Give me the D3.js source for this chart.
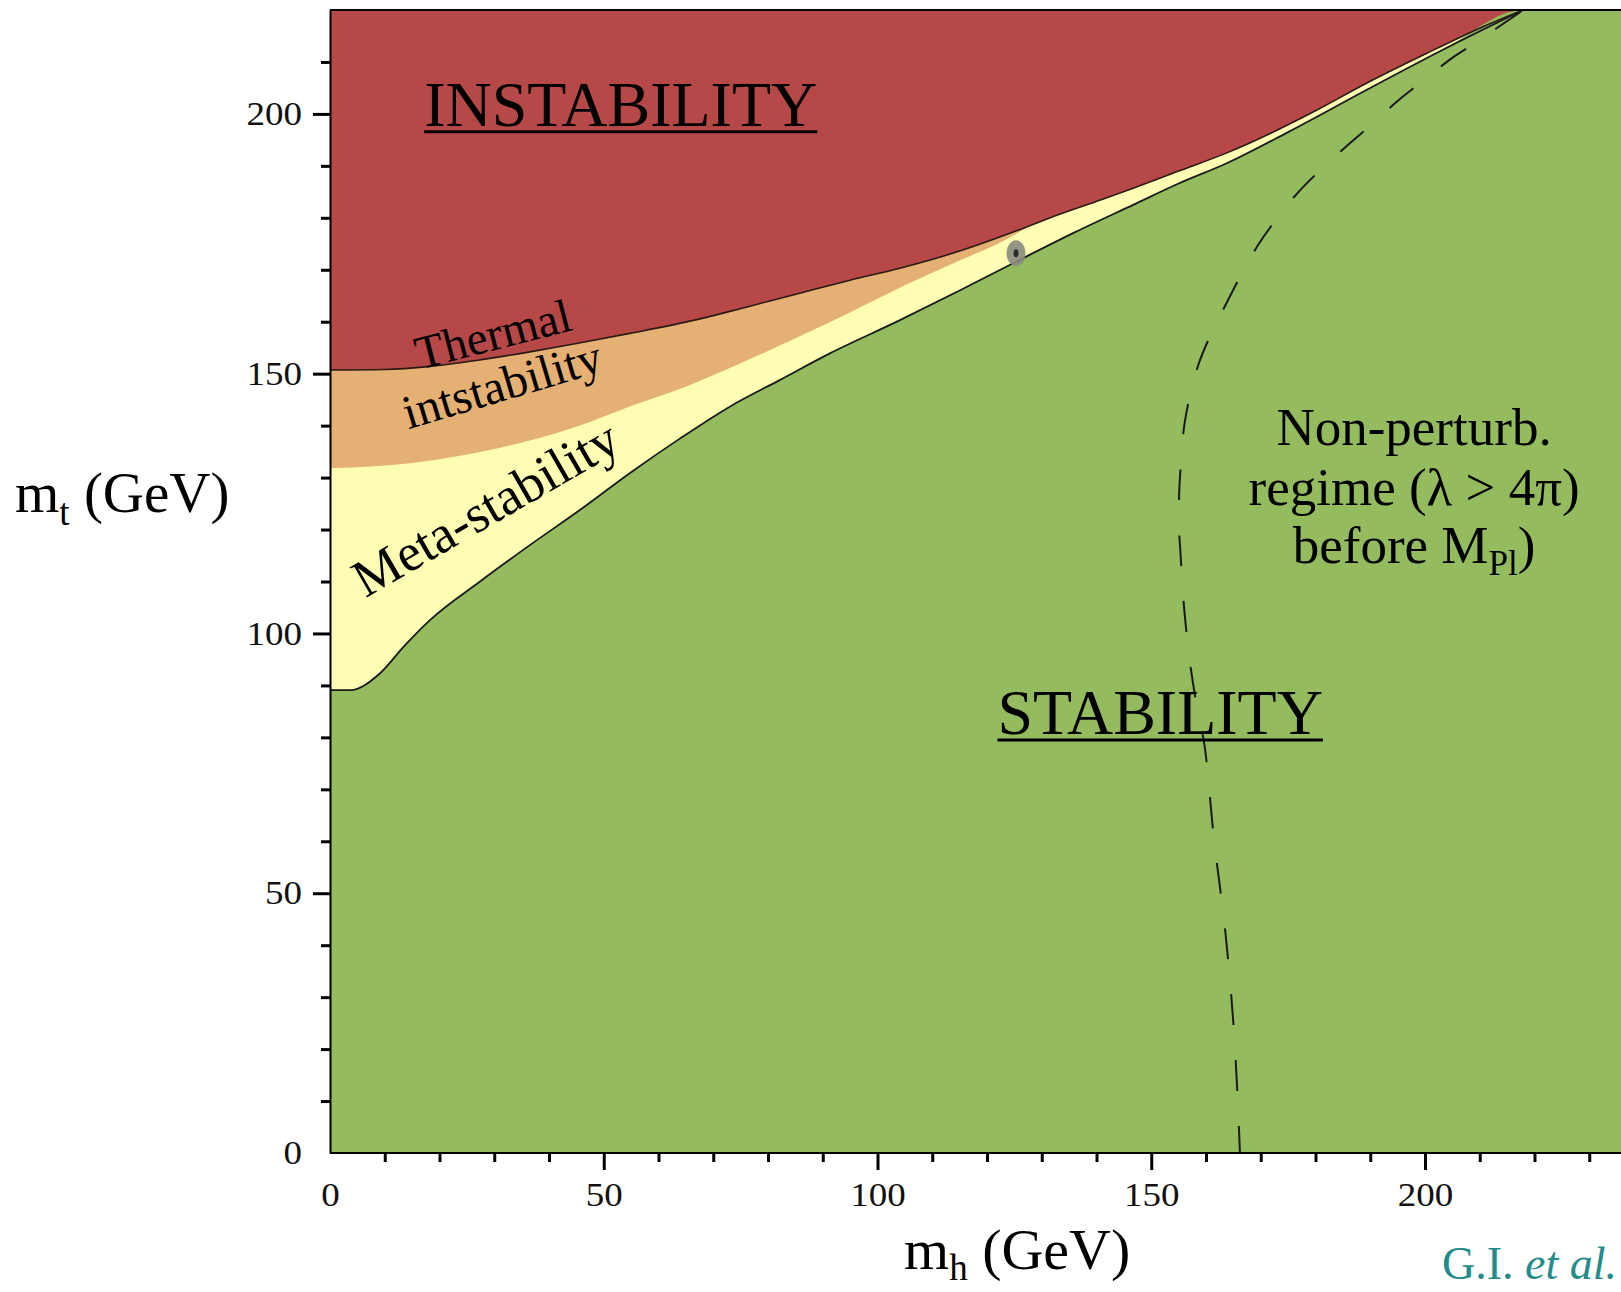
<!DOCTYPE html>
<html><head><meta charset="utf-8">
<script src="https://cdn.jsdelivr.net/npm/d3@7"></script>
<style>html,body{margin:0;padding:0;background:#fff;overflow:hidden}</style>
</head><body>
<svg id="chart" width="1621" height="1292"></svg>
<script>
// ---- Data ----
// Upper (absolute) instability boundary: red above
const instabMh = [0, 10, 18.3, 27, 36.5, 45.5, 55, 67, 76, 85.8, 95, 104.1, 115, 125.4, 133, 140.6, 146.7, 155, 163.8, 168, 180, 189.3, 200, 210, 217.9];
const instabMt = [150.7, 150.8, 151.4, 152.6, 154.2, 155.9, 157.8, 160.4, 162.8, 165.5, 168.0, 170.3, 173.6, 177.5, 180.6, 183.4, 185.7, 189.0, 192.5, 194.4, 200.6, 205.9, 211.5, 216.5, 220];
// Thermal instability / meta-stability boundary
const thermMh = [0, 15, 30, 45, 55, 65, 75, 85, 95, 105, 115, 122, 128.5];
const thermMt = [131.8, 132.8, 135.5, 139.8, 143.8, 147.5, 152.0, 156.8, 161.8, 167.0, 171.8, 175.0, 178.9];
// Stability boundary: green below
const stabMh = [0, 3.7, 9.1, 13.5, 18.3, 27.4, 36.5, 45.7, 54.8, 63.9, 73.1, 82.2, 91.3, 104.1, 115, 125.4, 136, 146.7, 155, 163.8, 175, 189.3, 203, 217.9];
const stabMt = [89.1, 89.1, 92.3, 97.5, 102.6, 110.0, 117.0, 123.8, 130.9, 137.5, 143.7, 148.8, 153.9, 160.3, 166.0, 171.6, 177.2, 182.5, 186.6, 190.5, 196.5, 204.6, 212.2, 220];
// Non-perturbative regime (lambda > 4 pi before M_Pl), dashed
const nonPertMh = [217.5, 209.5, 204.6, 199.7, 195.0, 190.4, 185.8, 181.3, 177.0, 173.1, 169.6, 166.5, 163.8, 161.0, 158.7, 157.1, 156.0, 155.4, 155.1, 155.1, 155.4, 155.8, 157.0, 158.5, 159.7, 161.5, 163.5, 165.0, 165.8, 166.2];
const nonPertMt = [219.7, 213.9, 210.5, 206.4, 202.5, 198.1, 193.9, 189.6, 185.1, 180.1, 174.9, 169.2, 163.7, 157.8, 152.0, 145.9, 139.8, 132.4, 127.0, 119.9, 114.5, 107.4, 95, 85, 78.7, 60, 42.9, 25, 10, 0];
// Measured point (m_h, m_t)
const measuredMh = [125.3];
const measuredMt = [173.2];
// Ticks
const xTickLabels = [0, 50, 100, 150, 200];
const yTickLabels = [0, 50, 100, 150, 200];
const xMinorTicks = [10,20,30,40,60,70,80,90,110,120,130,140,160,170,180,190,210,220,230,240];
const yMinorTicks = [10,20,30,40,60,70,80,90,110,120,130,140,160,170,180,190,210];

// ---- Layout ----
const W = 1621, H = 1292;
const FONT = "'Liberation Serif','Times New Roman',serif";
const C = {red:'#b74848', orange:'#e4b073', yellow:'#fdfdb4', green:'#94bc5f'};
const x = d3.scaleLinear().domain([0, 250]).range([330, 330 + 250 * 5.475]);
const y = d3.scaleLinear().domain([0, 220]).range([1153, 10]);
const svg = d3.select('#chart');
svg.append('rect').attr('width', W).attr('height', H).attr('fill', '#fff');

svg.append('defs').append('clipPath').attr('id', 'clip')
  .append('rect').attr('x', x(0)).attr('y', y(220)).attr('width', W - x(0)).attr('height', y(0) - y(220));

const zip = (a, b) => a.map((v, i) => [v, b[i]]);
const instab = zip(instabMh, instabMt);
const therm = zip(thermMh, thermMt);
const stab = zip(stabMh, stabMt);
const nonPert = zip(nonPertMh, nonPertMt);

const plot = svg.append('g').attr('clip-path', 'url(#clip)');
plot.append('rect').attr('x', x(0)).attr('y', y(220)).attr('width', x(250) - x(0)).attr('height', y(0) - y(220)).attr('fill', C.yellow);

const areaTop = d3.area().x(d => x(d[0])).y0(y(220)).y1(d => y(d[1])).curve(d3.curveMonotoneX);
const areaBottom = d3.area().x(d => x(d[0])).y0(y(0)).y1(d => y(d[1])).curve(d3.curveMonotoneX);
const line = d3.line().x(d => x(d[0])).y(d => y(d[1])).curve(d3.curveMonotoneX);

plot.append('path').datum(therm).attr('d', areaTop).attr('fill', C.orange);
plot.append('path').datum(instab).attr('d', areaTop).attr('fill', C.red);
plot.append('path').datum(stab.concat([[250, 220]])).attr('d', areaBottom).attr('fill', C.green);
plot.append('path').datum(instab).attr('d', line).attr('fill', 'none').attr('stroke', '#2a1a14').attr('stroke-width', 1.6);
plot.append('path').datum(stab).attr('d', line).attr('fill', 'none').attr('stroke', '#1a1a1a').attr('stroke-width', 1.8);

plot.append('path').datum(nonPert)
  .attr('d', d3.line().x(d => x(d[0])).y(d => y(d[1])).curve(d3.curveCatmullRom))
  .attr('fill', 'none').attr('stroke', '#1a1a1a').attr('stroke-width', 2).attr('stroke-dasharray', '31,35');

// measured point
const pts = zip(measuredMh, measuredMt);
plot.selectAll('ellipse.halo').data(pts).join('ellipse').attr('class', 'halo')
  .attr('cx', d => x(d[0])).attr('cy', d => y(d[1])).attr('rx', 9.5).attr('ry', 13).attr('fill', '#8a8a80').attr('opacity', 0.9);
plot.selectAll('ellipse.core').data(pts).join('ellipse').attr('class', 'core')
  .attr('cx', d => x(d[0])).attr('cy', d => y(d[1])).attr('rx', 2.5).attr('ry', 4).attr('fill', '#2b2b2b');

// ---- Axes ----
function styleAxis(sel) {
  sel.selectAll('.tick line').attr('stroke', '#000').attr('stroke-width', 3);
  sel.selectAll('.tick text').attr('font-family', FONT).attr('font-size', 33).attr('fill', '#111')
    .attr('textLength', d => String(d).length * 18.5).attr('lengthAdjust', 'spacingAndGlyphs');
  sel.select('.domain').attr('stroke', '#000').attr('stroke-width', 2);
}
const xMajor = svg.append('g').attr('transform', `translate(0,${y(0)})`)
  .call(d3.axisBottom(x).tickValues(xTickLabels).tickSizeInner(17).tickSizeOuter(0).tickPadding(13).tickFormat(d3.format('d')));
xMajor.select('.domain').attr('d', `M${x(0)},0H${W}`);
styleAxis(xMajor);
xMajor.selectAll('.tick').filter(d => d === 0).select('line').remove();
const xMinor = svg.append('g').attr('transform', `translate(0,${y(0)})`)
  .call(d3.axisBottom(x).tickValues(xMinorTicks).tickSize(9).tickFormat(''));
xMinor.select('.domain').remove();
xMinor.selectAll('.tick line').attr('stroke', '#000').attr('stroke-width', 3);

const yMajor = svg.append('g').attr('transform', `translate(${x(0)},0)`)
  .call(d3.axisLeft(y).tickValues(yTickLabels).tickSizeInner(17).tickSizeOuter(0).tickPadding(11).tickFormat(d3.format('d')));
styleAxis(yMajor);
yMajor.selectAll('.tick').filter(d => d === 0).select('line').remove();
const yMinor = svg.append('g').attr('transform', `translate(${x(0)},0)`)
  .call(d3.axisLeft(y).tickValues(yMinorTicks).tickSize(9).tickFormat(''));
yMinor.select('.domain').remove();
yMinor.selectAll('.tick line').attr('stroke', '#000').attr('stroke-width', 3);

// top frame
svg.append('line').attr('x1', x(0)).attr('x2', W).attr('y1', y(220)).attr('y2', y(220)).attr('stroke', '#000').attr('stroke-width', 2);

// ---- Axis titles ----
const yTitle = svg.append('text').attr('x', 15).attr('y', 512).attr('font-family', FONT).attr('font-size', 57).attr('fill', '#000');
yTitle.append('tspan').text('m');
yTitle.append('tspan').attr('font-size', 37).attr('dy', 13).text('t');
yTitle.append('tspan').attr('dy', -13).text(' (GeV)');

const xTitle = svg.append('text').attr('x', 904).attr('y', 1269).attr('font-family', FONT).attr('font-size', 58).attr('fill', '#000');
xTitle.append('tspan').text('m');
xTitle.append('tspan').attr('font-size', 37).attr('dy', 11).text('h');
xTitle.append('tspan').attr('dy', -11).text(' (GeV)');

const credit = svg.append('text').attr('x', 1442).attr('y', 1279).attr('font-family', FONT).attr('font-size', 46).attr('fill', '#238b8a');
credit.append('tspan').text('G.I. ');
credit.append('tspan').attr('font-style', 'italic').text('et al.');

// ---- Region labels ----
function underlined(txt, mh, mt, size) {
  const t = svg.append('text').attr('x', x(mh)).attr('y', y(mt)).attr('font-family', FONT).attr('font-size', size).attr('fill', '#000').text(txt);
  const w = t.node().getComputedTextLength();
  svg.append('line').attr('x1', x(mh)).attr('x2', x(mh) + w).attr('y1', y(mt) + 6).attr('y2', y(mt) + 6).attr('stroke', '#000').attr('stroke-width', 3);
}
underlined('INSTABILITY', 17.2, 197.7, 64);
underlined('STABILITY', 121.9, 80.65, 64);

function rotated(txt, mh, mt, angle, size) {
  svg.append('text').attr('transform', `translate(${x(mh)},${y(mt)}) rotate(${angle})`)
    .attr('font-family', FONT).attr('font-size', size).attr('fill', '#000').text(txt);
}
rotated('Thermal', 16.4, 150.8, -14.5, 47);
rotated('intstability', 14.3, 139.3, -16.6, 48);
rotated('Meta-stability', 6.5, 106.8, -30, 53);

const np = svg.append('g').attr('font-family', FONT).attr('font-size', 53).attr('fill', '#000').attr('text-anchor', 'middle');
np.append('text').attr('x', x(198)).attr('y', y(136.3)).text('Non-perturb.');
np.append('text').attr('x', x(198)).attr('y', y(124.7)).text('regime (\u03bb > 4\u03c0)');
const bl = np.append('text').attr('x', x(198)).attr('y', y(113.6));
bl.append('tspan').text('before M');
bl.append('tspan').attr('font-size', 35).attr('dy', 12).text('Pl');
bl.append('tspan').attr('dy', -12).text(')');
</script>
</body></html>
